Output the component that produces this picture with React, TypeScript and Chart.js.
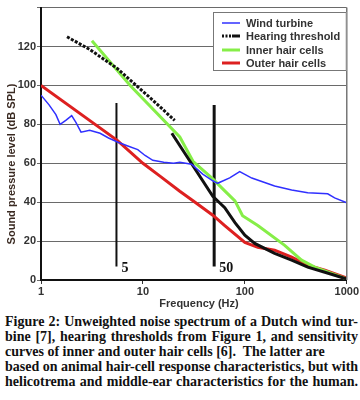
import React, { useEffect, useRef } from 'react';
import { Chart, registerables } from 'chart.js';
Chart.register(...registerables);

// ---- data ----
const windFreq = [1, 1.2, 1.4, 1.54, 1.75, 2.0, 2.2, 2.47, 3.0, 3.8, 4.6, 5.7, 7, 8.9, 10.5, 12.5, 16, 20, 23, 30, 38.6, 48.5, 54, 71, 89, 117, 196, 288, 414, 650, 760, 1000];
const windDb = [95, 90, 85, 80, 82, 84.5, 81, 76, 77, 75.4, 73, 70.8, 69, 67, 64, 61.5, 60.5, 60, 60.5, 59.5, 54.4, 51, 49.7, 52.5, 55.7, 52.4, 48.3, 46.3, 44.8, 44.3, 42.2, 39.7];

const hearingDashFreq = [1.8, 3, 5.6, 11.7, 20.5];
const hearingDashDb = [125, 118.5, 108.7, 93.8, 82];
const hearingSolidFreq = [19.2, 48.5, 63.5, 80, 100, 125, 196, 288, 414, 610, 1000];
const hearingSolidDb = [75.4, 43, 37.2, 29.5, 23, 18.8, 13.7, 10.2, 6.6, 4, 0.5];

const innerFreq = [3.16, 7.5, 23, 31, 48.5, 63.5, 80, 95, 134, 246, 360, 485, 1000];
const innerDb = [123, 100, 73.5, 61, 52, 45.8, 40.7, 33, 28, 17.8, 10.2, 6.6, 0.5];

const outerFreq = [1, 5.6, 10, 14.7, 23, 31, 48.5, 63.5, 100, 134, 196, 288, 414, 610, 1000];
const outerDb = [100, 71.8, 60, 53.4, 45.6, 40.7, 33.3, 28, 19.3, 16.8, 15.3, 11.7, 7.6, 5, 1];

const marker5Freq = [5.5, 5.5];
const marker5Db = [91, 7];
const marker50Freq = [50, 50];
const marker50Db = [90, 7];
const markerLabels = ['5', '50'];

const xTicks = [1, 10, 100, 1000];
const yTicks = [0, 20, 40, 60, 80, 100, 120, 140];

const legendItems = ['Wind turbine', 'Hearing threshold', 'Inner hair cells', 'Outer hair cells'];
const seriesColors = ['#3030ff', '#111111', '#86ee48', '#dd2020'];

const yTitle = 'Sound pressure level (dB SPL)';
const xTitle = 'Frequency (Hz)';

const captionLines = [
  'Figure 2: Unweighted noise spectrum of a Dutch wind tur-',
  'bine [7], hearing thresholds from Figure 1, and sensitivity',
  'curves of inner and outer hair cells [6].  The latter are',
  'based on animal hair-cell response characteristics, but with',
  'helicotrema and middle-ear characteristics for the human.',
];

const pts = (xs: number[], ys: number[]) => xs.map((x, i) => ({ x, y: ys[i] }));

const SANS = '"Liberation Sans", Arial, sans-serif';
const SERIF = '"Liberation Serif", "Times New Roman", serif';

const overlay = {
  id: 'overlay',
  afterDraw(chart: any) {
    const { ctx, chartArea, scales } = chart;
    const xs = scales.x;
    const ys = scales.y;
    ctx.save();
    // right border
    ctx.strokeStyle = '#777';
    ctx.lineWidth = 1.5;
    ctx.beginPath();
    ctx.moveTo(chartArea.right, chartArea.top);
    ctx.lineTo(chartArea.right, chartArea.bottom);
    ctx.stroke();

    // legend box
    const lx = 213, ly = 12, lw = chartArea.right - 213, lh = 59;
    ctx.fillStyle = '#fff';
    ctx.fillRect(lx, ly, lw, lh);
    ctx.strokeStyle = '#777';
    ctx.lineWidth = 1;
    ctx.strokeRect(lx + 0.5, ly + 0.5, lw - 1, lh - 1);
    const rows = [23, 36, 50, 63];
    ctx.font = `bold 11px ${SANS}`;
    ctx.textBaseline = 'middle';
    ctx.textAlign = 'left';
    legendItems.forEach((t, i) => {
      const y = rows[i];
      ctx.strokeStyle = seriesColors[i];
      ctx.lineWidth = i === 0 ? 1.5 : 3;
      if (i === 1) {
        ctx.setLineDash([2, 1.5]);
        ctx.beginPath(); ctx.moveTo(222, y); ctx.lineTo(232, y); ctx.stroke();
        ctx.setLineDash([]);
        ctx.beginPath(); ctx.moveTo(232, y); ctx.lineTo(240, y); ctx.stroke();
      } else {
        ctx.beginPath(); ctx.moveTo(222, y); ctx.lineTo(240, y); ctx.stroke();
      }
      ctx.fillStyle = '#333';
      ctx.fillText(t, 246, y + 0.5);
    });

    // axis titles
    ctx.fillStyle = '#3a2a22';
    ctx.font = `bold 11px ${SANS}`;
    ctx.save();
    ctx.translate(12, 164);
    ctx.rotate(-Math.PI / 2);
    ctx.textAlign = 'center';
    ctx.textBaseline = 'middle';
    ctx.fillText(yTitle, 0, 0);
    ctx.restore();
    ctx.fillStyle = '#333';
    ctx.textAlign = 'center';
    ctx.textBaseline = 'middle';
    ctx.fillText(xTitle, 199, 304);

    // marker labels
    ctx.fillStyle = '#111';
    ctx.font = `bold 14px ${SERIF}`;
    ctx.textAlign = 'left';
    ctx.fillText(markerLabels[0], xs.getPixelForValue(marker5Freq[1]) + 5, ys.getPixelForValue(marker5Db[1]) + 2);
    ctx.fillText(markerLabels[1], xs.getPixelForValue(marker50Freq[1]) + 5, ys.getPixelForValue(marker50Db[1]) + 2);
    ctx.restore();
  },
};

export default function App() {
  const ref = useRef<HTMLCanvasElement>(null);
  useEffect(() => {
    const canvas = ref.current!;
    const common = { pointRadius: 0, tension: 0, fill: false } as any;
    const chart = new Chart(canvas, {
      type: 'line',
      data: {
        datasets: [
          { ...common, label: legendItems[0], data: pts(windFreq, windDb), borderColor: seriesColors[0], borderWidth: 1.5 },
          { ...common, label: legendItems[1], data: pts(hearingDashFreq, hearingDashDb), borderColor: seriesColors[1], borderWidth: 3, borderDash: [3, 1.5] },
          { ...common, label: legendItems[1], data: pts(hearingSolidFreq, hearingSolidDb), borderColor: seriesColors[1], borderWidth: 3 },
          { ...common, label: legendItems[2], data: pts(innerFreq, innerDb), borderColor: seriesColors[2], borderWidth: 3 },
          { ...common, label: legendItems[3], data: pts(outerFreq, outerDb), borderColor: seriesColors[3], borderWidth: 3 },
          { ...common, label: 'm5', data: pts(marker5Freq, marker5Db), borderColor: '#111', borderWidth: 2 },
          { ...common, label: 'm50', data: pts(marker50Freq, marker50Db), borderColor: '#111', borderWidth: 3 },
        ],
      },
      options: {
        animation: false,
        responsive: false,
        maintainAspectRatio: false,
        layout: { padding: { top: 6, right: 13, left: 0, bottom: 0 } },
        plugins: { legend: { display: false }, tooltip: { enabled: false }, title: { display: false } },
        scales: {
          x: {
            type: 'logarithmic',
            min: 1,
            max: 1000,
            afterBuildTicks: (s: any) => { s.ticks = xTicks.map((v) => ({ value: v })); },
            afterFit: (s: any) => { s.height = 32; },
            ticks: {
              autoSkip: false,
              maxRotation: 0,
              padding: 1,
              color: '#333',
              font: { family: SANS, size: 11, weight: 'bold' },
              callback: (v: any) => String(v),
            },
            grid: { display: true, drawOnChartArea: false, tickLength: 4, color: '#333' },
            border: { color: '#111', width: 2 },
          },
          y: {
            min: 0,
            max: 140,
            afterBuildTicks: (s: any) => { s.ticks = yTicks.map((v) => ({ value: v })); },
            afterFit: (s: any) => { s.width = 41; },
            ticks: {
              padding: 1,
              color: '#333',
              font: { family: SANS, size: 11, weight: 'bold' },
              callback: (v: any) => (v === 140 ? '' : String(v)),
            },
            grid: { color: '#6a6a6a', tickLength: 4, lineWidth: 1 },
            border: { color: '#111', width: 2 },
          },
        },
      } as any,
      plugins: [overlay],
    });
    return () => chart.destroy();
  }, []);

  return (
    <div style={{ position: 'absolute', left: 0, top: 0, width: 360, height: 400, background: '#fff', overflow: 'hidden' }}>
      <canvas ref={ref} width={360} height={312} style={{ display: 'block', width: 360, height: 312 }} />
      <div style={{ position: 'absolute', left: 5, top: 314, width: 353, fontFamily: SERIF, fontWeight: 'bold', fontSize: 14, lineHeight: '15px', color: '#111' }}>
        {captionLines.map((l, i) => (
          <div key={i} style={{ whiteSpace: i === 2 ? 'pre' : 'nowrap', textAlign: i === 2 ? 'left' : 'justify', textAlignLast: i === 2 ? 'left' : 'justify' } as any}>{l}</div>
        ))}
      </div>
    </div>
  );
}
